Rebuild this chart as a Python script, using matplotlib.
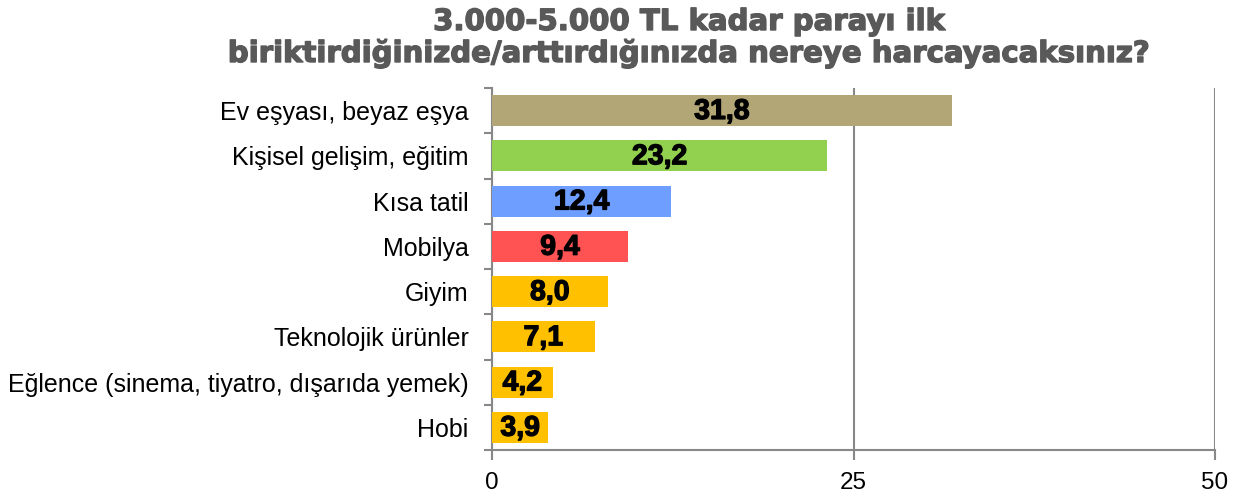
import matplotlib
matplotlib.use("Agg")
import matplotlib.pyplot as plt
import matplotlib.patheffects as pe

categories = [
    "Ev eşyası, beyaz eşya",
    "Kişisel gelişim, eğitim",
    "Kısa tatil",
    "Mobilya",
    "Giyim",
    "Teknolojik ürünler",
    "Eğlence (sinema, tiyatro, dışarıda yemek)",
    "Hobi",
]
values = [31.8, 23.2, 12.4, 9.4, 8.0, 7.1, 4.2, 3.9]
colors = ["#B2A676", "#92D050", "#6E9EFF", "#FF5252",
          "#FFC000", "#FFC000", "#FFC000", "#FFC000"]

title_lines = ["3.000-5.000 TL kadar parayı ilk",
               "biriktirdiğinizde/arttırdığınızda nereye harcayacaksınız?"]

W, H = 1242, 499
fig = plt.figure(figsize=(W / 100, H / 100), dpi=100)
ax = fig.add_axes([492 / W, 1 - 450 / H, (1215 - 492) / W, (450 - 88) / H])

y = list(range(len(categories)))
ax.barh(y, values, height=0.68, color=colors, zorder=3)
ax.set_ylim(len(categories) - 0.5, -0.5)
ax.set_xlim(0, 50)

for yi, v in zip(y, values):
    ax.text(v / 2, yi + 0.03, f"{v:.1f}".replace(".", ","), ha="center", va="center",
            fontsize=20.5, fontweight="bold", fontfamily="Liberation Sans",
            color="black", zorder=4,
            path_effects=[pe.withStroke(linewidth=0.9, foreground="black")])

ax.set_xticks([0, 25, 50])
ax.set_xticklabels(["0", "25", "50"], fontsize=17.5, fontfamily="Liberation Sans")
ax.set_yticks(y)
ax.set_yticklabels(categories, fontsize=18, fontfamily="Liberation Sans")
ax.set_yticks([i - 0.5 for i in range(len(categories) + 1)], minor=True)
ax.tick_params(axis="y", which="major", length=0, pad=17)
ax.tick_params(axis="y", which="minor", length=6, color="#888888", width=1.5)
ax.tick_params(axis="x", length=7, color="#888888", width=1.5, pad=9)

ax.grid(axis="x", color="#888888", linewidth=1.5, zorder=0)
for s in ["top", "right"]:
    ax.spines[s].set_visible(False)
for s in ["left", "bottom"]:
    ax.spines[s].set_color("#888888")
    ax.spines[s].set_linewidth(1.5)

for line, base in zip(title_lines, [30, 62]):
    fig.text(689 / W, 1 - base / H, line, ha="center", va="baseline", fontsize=21,
             fontweight="bold", fontfamily="DejaVu Sans", color="#595959",
             path_effects=[pe.withStroke(linewidth=1.0, foreground="#595959")])

fig.savefig("out.png", dpi=100)
